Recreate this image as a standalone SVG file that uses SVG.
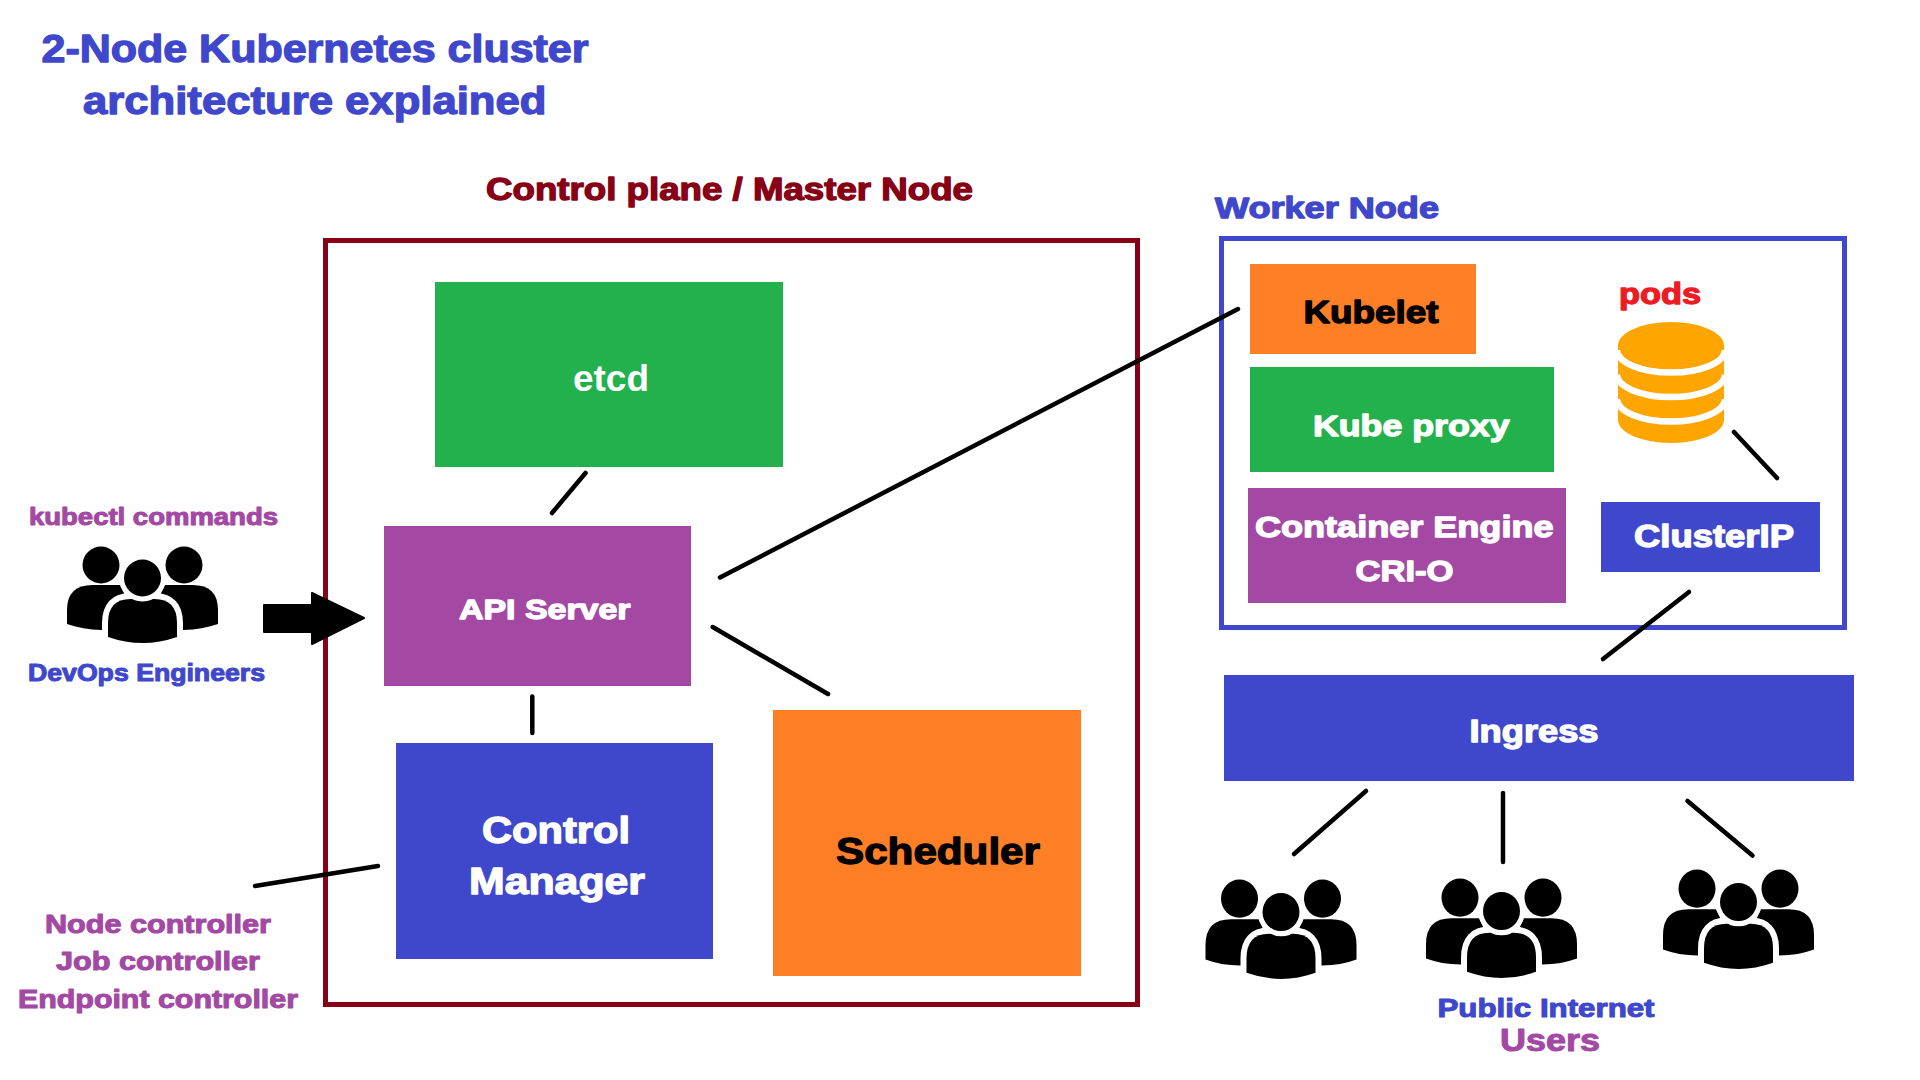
<svg xmlns="http://www.w3.org/2000/svg" width="1920" height="1080" viewBox="0 0 1920 1080">
<style>
text{font-family:"Liberation Sans",Arial,sans-serif;font-weight:700;stroke-linejoin:round;paint-order:stroke}
.blue{fill:#3F48CC;stroke:#3F48CC}
.crim{fill:#880015;stroke:#880015}
.purp{fill:#A349A4;stroke:#A349A4}
.white{fill:#fff;stroke:#fff}
.black{fill:#000;stroke:#000}
.red{fill:#ED1C24;stroke:#ED1C24}
.s0{stroke-width:0}
.s1{stroke-width:1.3}
.s2{stroke-width:1}
.conn line{stroke:#000;stroke-width:4.5;stroke-linecap:round}
</style>
<defs>
<symbol id="people" overflow="visible">
<circle cx="-41.5" cy="-78" r="18.5" fill="#000"/>
<circle cx="41.5" cy="-78" r="18.5" fill="#000"/>
<path d="M-75.5,-19V-33Q-75.5,-58 -50,-58H-22L-10,-30V-13H-41Q-60,-13.5 -75.5,-19Z" fill="#000"/>
<path d="M75.5,-19V-33Q75.5,-58 50,-58H22L10,-30V-13H41Q60,-13.5 75.5,-19Z" fill="#000"/>
<path d="M-34.5,-6V-20Q-34.5,-44 -12,-44H12Q34.5,-44 34.5,-20V-6Q0,6 -34.5,-6Z" fill="#000" stroke="#fff" stroke-width="12" paint-order="stroke"/>
<circle cx="0" cy="-65" r="18.5" fill="#000" stroke="#fff" stroke-width="10" paint-order="stroke"/>
</symbol>
</defs>
<rect width="1920" height="1080" fill="#fff"/>

<g id="title">
<text class="blue s1" x="41.5" y="62" font-size="39" textLength="547" lengthAdjust="spacingAndGlyphs">2-Node Kubernetes cluster</text>
<text class="blue s1" x="83" y="113.5" font-size="39" textLength="463.5" lengthAdjust="spacingAndGlyphs">architecture explained</text>
</g>

<g id="control-plane">
<rect x="325.5" y="240.5" width="812" height="764" fill="none" stroke="#880015" stroke-width="5"/>
<text class="crim s1" x="486" y="200" font-size="31" textLength="487" lengthAdjust="spacingAndGlyphs">Control plane / Master Node</text>
</g>

<g id="etcd">
<rect x="435" y="282" width="348" height="185" fill="#22B14C"/>
<text class="white s0" x="573" y="391" font-size="37" textLength="76" lengthAdjust="spacingAndGlyphs">etcd</text>
</g>

<g id="api-server">
<rect x="384" y="526" width="307" height="160" fill="#A349A4"/>
<text class="white s1" x="459" y="618.5" font-size="28.5" textLength="171.5" lengthAdjust="spacingAndGlyphs">API Server</text>
</g>

<g id="control-manager">
<rect x="396" y="743" width="317" height="216" fill="#3F48CC"/>
<text class="white s1" x="482" y="842.5" font-size="37" textLength="148" lengthAdjust="spacingAndGlyphs">Control</text>
<text class="white s1" x="469" y="894" font-size="37" textLength="176" lengthAdjust="spacingAndGlyphs">Manager</text>
</g>

<g id="scheduler">
<rect x="773" y="710" width="308" height="266" fill="#FF7F27"/>
<text class="black s1" x="836" y="863.5" font-size="37" textLength="204" lengthAdjust="spacingAndGlyphs">Scheduler</text>
</g>

<g id="kubectl-users">
<text class="purp s2" x="29" y="524.5" font-size="23" textLength="249" lengthAdjust="spacingAndGlyphs">kubectl commands</text>
<use href="#people" x="142.5" y="643"/>
<text class="blue s2" x="28" y="681" font-size="23" textLength="237" lengthAdjust="spacingAndGlyphs">DevOps Engineers</text>
<path d="M264,605H312V593L364,618L312,644V632H264Z" fill="#000" stroke="#000" stroke-width="2" stroke-linejoin="round"/>
</g>

<g id="controllers">
<text class="purp s2" x="45" y="932.5" font-size="25" textLength="226" lengthAdjust="spacingAndGlyphs">Node controller</text>
<text class="purp s2" x="56" y="970" font-size="25" textLength="204" lengthAdjust="spacingAndGlyphs">Job controller</text>
<text class="purp s2" x="18" y="1007.5" font-size="25" textLength="280" lengthAdjust="spacingAndGlyphs">Endpoint controller</text>
</g>

<g id="worker-node">
<rect x="1221.5" y="238.5" width="623" height="389" fill="none" stroke="#3F48CC" stroke-width="5"/>
<text class="blue s1" x="1215" y="218" font-size="30" textLength="224" lengthAdjust="spacingAndGlyphs">Worker Node</text>
</g>

<g id="kubelet">
<rect x="1250" y="264" width="226" height="90" fill="#FF7F27"/>
<text class="black s1" x="1303.5" y="323" font-size="31" textLength="135" lengthAdjust="spacingAndGlyphs">Kubelet</text>
</g>

<g id="kube-proxy">
<rect x="1250" y="367" width="304" height="105" fill="#22B14C"/>
<text class="white s1" x="1313" y="436" font-size="30" textLength="196.5" lengthAdjust="spacingAndGlyphs">Kube proxy</text>
</g>

<g id="container-engine">
<rect x="1248" y="488" width="318" height="115" fill="#A349A4"/>
<text class="white s1" x="1255" y="537" font-size="30" textLength="298.5" lengthAdjust="spacingAndGlyphs">Container Engine</text>
<text class="white s1" x="1355.5" y="581" font-size="30" textLength="98" lengthAdjust="spacingAndGlyphs">CRI-O</text>
</g>

<g id="pods">
<text class="red s1" x="1619" y="304" font-size="30" textLength="82" lengthAdjust="spacingAndGlyphs">pods</text>
<path d="M1618,345.5A53,23.5 0 0 1 1724,345.5V420A53,23 0 0 1 1618,420Z" fill="#FFA500"/>
<g fill="none" stroke="#fff" stroke-width="6.5">
<path d="M1617,350A54,22.5 0 0 0 1725,350"/>
<path d="M1617,374.5A54,22.5 0 0 0 1725,374.5"/>
<path d="M1617,399A54,22.5 0 0 0 1725,399"/>
</g>
</g>

<g id="cluster-ip">
<rect x="1601" y="502" width="219" height="70" fill="#3F48CC"/>
<text class="white s1" x="1634" y="546.5" font-size="31" textLength="160" lengthAdjust="spacingAndGlyphs">ClusterIP</text>
</g>

<g id="ingress">
<rect x="1224" y="675" width="630" height="106" fill="#3F48CC"/>
<text class="white s1" x="1469.5" y="742" font-size="30.5" textLength="129" lengthAdjust="spacingAndGlyphs">Ingress</text>
</g>

<g id="internet-users">
<use href="#people" transform="translate(1281 979) scale(1 1.03)"/>
<use href="#people" transform="translate(1501.5 978) scale(1 1.03)"/>
<use href="#people" transform="translate(1738.5 969) scale(1 1.03)"/>
<text class="blue s2" x="1437.5" y="1016.5" font-size="25" textLength="217" lengthAdjust="spacingAndGlyphs">Public Internet</text>
<text class="purp s2" x="1500" y="1051" font-size="31" textLength="100" lengthAdjust="spacingAndGlyphs">Users</text>
</g>

<g id="connectors" class="conn">
<line x1="585.5" y1="473" x2="552" y2="513"/>
<line x1="720" y1="577.5" x2="1238" y2="309"/>
<line x1="712.7" y1="627" x2="828" y2="694"/>
<line x1="532.3" y1="696.5" x2="532.3" y2="733"/>
<line x1="255" y1="886" x2="378" y2="866"/>
<line x1="1734" y1="432" x2="1777" y2="478"/>
<line x1="1689" y1="592" x2="1603" y2="659"/>
<line x1="1366" y1="791" x2="1294" y2="854"/>
<line x1="1503" y1="793" x2="1503" y2="862"/>
<line x1="1687.5" y1="801" x2="1752.5" y2="855.5"/>
</g>
</svg>
